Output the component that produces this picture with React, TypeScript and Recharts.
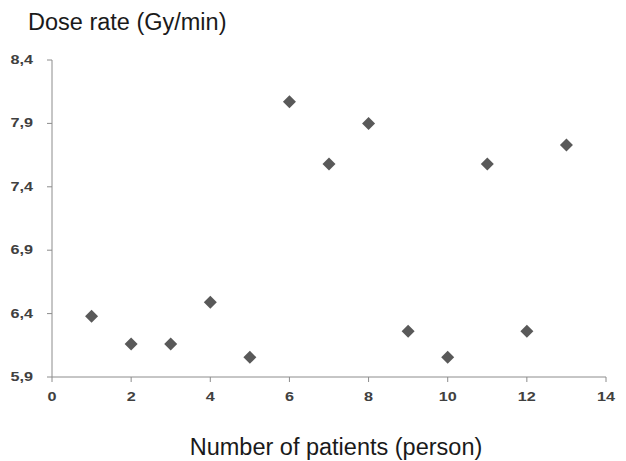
import React from 'react';
import { ScatterChart, Scatter, XAxis, YAxis, Label } from 'recharts';

const patients = [1, 2, 3, 4, 5, 6, 7, 8, 9, 10, 11, 12, 13];
const doseRates = [6.38, 6.16, 6.16, 6.49, 6.055, 8.07, 7.58, 7.9, 6.26, 6.055, 7.58, 6.26, 7.73];
const xTicks = [0, 2, 4, 6, 8, 10, 12, 14];
const yTicks = [5.9, 6.4, 6.9, 7.4, 7.9, 8.4];
const xTitle = 'Number of patients (person)';
const yTitle = 'Dose rate (Gy/min)';

const data = patients.map((p, i) => ({ x: p, y: doseRates[i] }));

const FONT = '"Liberation Sans", Arial, sans-serif';
const TICK_COLOR = '#404040';
const AXIS_COLOR = '#8c8c8c';
const MARK_COLOR = '#595959';

const Diamond = (props: any) => {
  const { cx, cy } = props;
  const r = 6.5;
  return (
    <polygon
      points={`${cx},${cy - r} ${cx + r},${cy} ${cx},${cy + r} ${cx - r},${cy}`}
      fill={MARK_COLOR}
    />
  );
};

const XTick = (props: any) => {
  const { x, y, payload } = props;
  return (
    <text
      transform={`translate(${x},${y + 17}) scale(1.35,1)`}
      textAnchor="middle"
      fontFamily={FONT}
      fontSize={12}
      fontWeight="bold"
      fill={TICK_COLOR}
    >
      {String(payload.value)}
    </text>
  );
};

const YTick = (props: any) => {
  const { x, y, payload } = props;
  return (
    <text
      transform={`translate(${x - 12},${y + 4}) scale(1.35,1)`}
      textAnchor="end"
      fontFamily={FONT}
      fontSize={12}
      fontWeight="bold"
      fill={TICK_COLOR}
    >
      {Number(payload.value).toFixed(1).replace('.', ',')}
    </text>
  );
};

export default function App() {
  return (
    <div style={{ position: 'absolute', left: 0, top: 0, width: 626, height: 461, background: '#fff' }}>
      <ScatterChart width={626} height={461} margin={{ top: 60, right: 20, left: 12, bottom: 54 }}>
        <XAxis
          type="number"
          dataKey="x"
          domain={[0, 14]}
          ticks={xTicks}
          interval={0}
          height={30}
          stroke={AXIS_COLOR}
          tickSize={5}
          tick={<XTick />}
          allowDataOverflow
        >
          <Label
            content={(p: any) => {
              const vb = p.viewBox;
              return (
                <text
                  x={vb.x + vb.width / 2 + 7}
                  y={vb.y + 78}
                  textAnchor="middle"
                  fontFamily={FONT}
                  fontSize={23.5}
                  fill="#1a1a1a"
                >
                  {xTitle}
                </text>
              );
            }}
          />
        </XAxis>
        <YAxis
          type="number"
          dataKey="y"
          domain={[5.9, 8.4]}
          ticks={yTicks}
          interval={0}
          width={40}
          stroke={AXIS_COLOR}
          tickSize={5}
          tick={<YTick />}
          allowDataOverflow
        >
          <Label
            content={(p: any) => {
              const vb = p.viewBox;
              return (
                <text
                  x={vb.x - 12 + 28}
                  y={vb.y - 30}
                  textAnchor="start"
                  fontFamily={FONT}
                  fontSize={23.5}
                  fill="#1a1a1a"
                >
                  {yTitle}
                </text>
              );
            }}
          />
        </YAxis>
        <Scatter data={data} shape={<Diamond />} isAnimationActive={false} />
      </ScatterChart>
    </div>
  );
}
